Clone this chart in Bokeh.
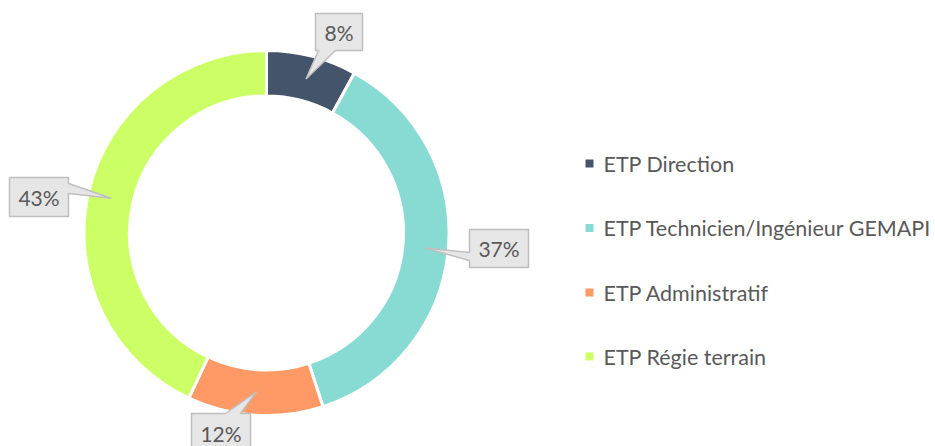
import numpy as np
from bokeh.plotting import figure
from bokeh.models import ColumnDataSource
from bokeh.core.properties import value
from bokeh.embed import file_html
from bokeh.resources import INLINE

# ---- data ----
categories = ["ETP Direction", "ETP Technicien/Ingénieur GEMAPI", "ETP Administratif", "ETP Régie terrain"]
shares = [8, 37, 12, 43]
colors = ["#44546A", "#88DBD3", "#FF9966", "#CCFF66"]
labels = [f"{s}%" for s in shares]

W, H = 935, 446
FONT = "Lato"
TXT = "#595959"

def X(px):
    return px

def Y(py):
    return H - py

p = figure(width=W, height=H, x_range=(0, W), y_range=(0, H),
           x_axis_type=None, y_axis_type=None, toolbar_location=None,
           output_backend="svg", min_border=0, outline_line_color=None)
p.grid.visible = False
p.background_fill_color = "white"

cx, cy = X(266), Y(232.5)
r_in, r_out = 137, 182.5

frac = np.array(shares, dtype=float) / sum(shares)
ends = np.pi / 2 - 2 * np.pi * np.cumsum(frac)
starts = np.concatenate([[np.pi / 2], ends[:-1]])
mids = (starts + ends) / 2

src = ColumnDataSource(dict(start=ends, end=starts, color=colors, cat=categories))
p.annular_wedge(x=cx, y=cy, inner_radius=r_in, outer_radius=r_out,
                start_angle="start", end_angle="end", direction="anticlock",
                fill_color="color", line_color="white", line_width=3, source=src)

# ---- callouts ----
boxes = [
    ((315, 13, 362, 50), "bottom", (318, 335)),
    ((469, 229, 528, 267), "left", (252, 260)),
    ((191, 413, 250, 452), "top", (225, 240)),
    ((9, 177, 68, 216), "right", (183, 193)),
]
r_tip = 159
xs, ys, tx, ty = [], [], [], []
for i, ((l, t, r, b), side, (a1, a2)) in enumerate(boxes):
    tipx = cx + r_tip * np.cos(mids[i])
    tipy = cy + r_tip * np.sin(mids[i])
    L, R, T, B = X(l), X(r), Y(t), Y(b)
    if side == "bottom":
        px_ = [L, R, R, X(a2), tipx, X(a1), L]
        py_ = [T, T, B, B, tipy, B, B]
    elif side == "top":
        px_ = [L, X(a1), tipx, X(a2), R, R, L]
        py_ = [T, T, tipy, T, T, B, B]
    elif side == "left":
        px_ = [L, R, R, L, L, tipx, L]
        py_ = [T, T, B, B, Y(a2), tipy, Y(a1)]
    else:
        px_ = [L, R, R, tipx, R, R, L]
        py_ = [T, T, Y(a1), tipy, Y(a2), B, B]
    xs.append(px_)
    ys.append(py_)
    tx.append((L + R) / 2)
    ty.append((T + B) / 2)

p.patches(xs=xs, ys=ys, fill_color="#E7E6E6", line_color="#BFBFBF", line_width=1.5)
p.text(x=tx, y=ty, text=labels, text_align="center", text_baseline="middle",
       text_font=value(FONT), text_font_size="21px", text_color=TXT)

# ---- legend ----
leg_y = [Y(v) for v in (163, 227.5, 292, 356)]
p.rect(x=[X(589)] * 4, y=leg_y, width=8, height=8, fill_color=colors, line_color=None)
p.text(x=[X(603)] * 4, y=leg_y, text=categories, text_align="left", text_baseline="middle",
       text_font=value(FONT), text_font_size="21.5px", text_color=TXT)

open("out.html", "w").write(file_html(p, INLINE))
